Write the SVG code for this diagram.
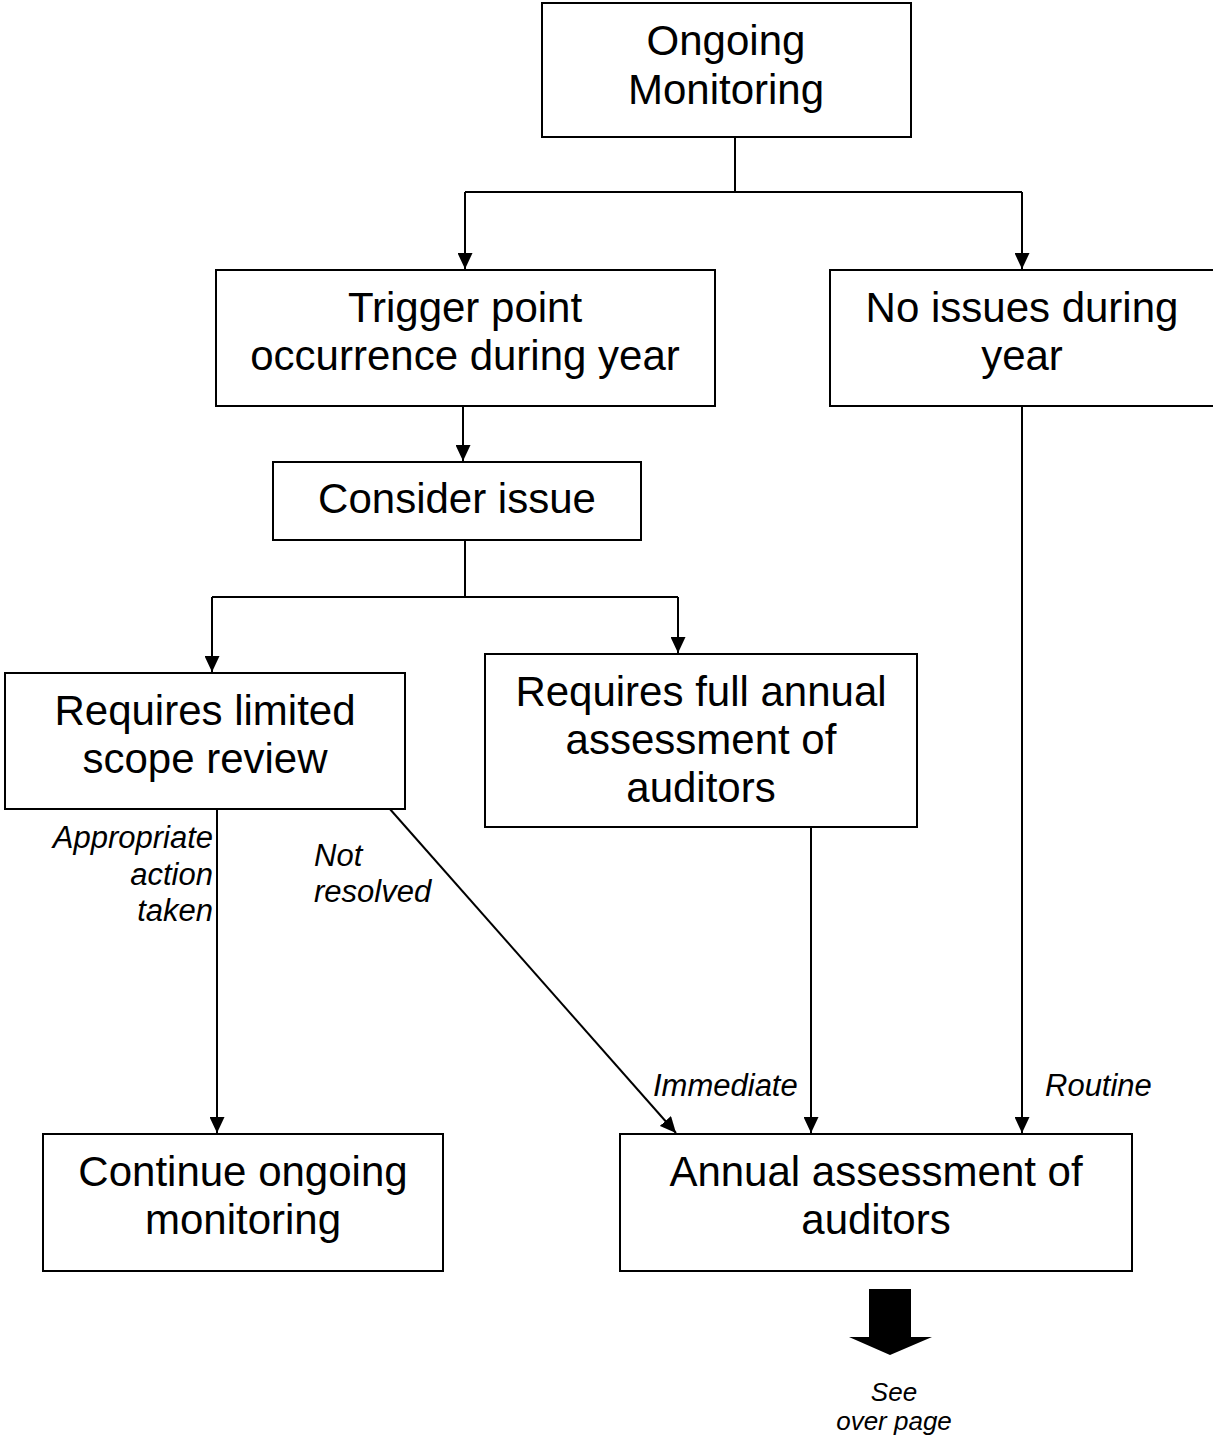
<svg xmlns="http://www.w3.org/2000/svg" width="1213" height="1439" viewBox="0 0 1213 1439">
<style>
.box{fill:#fff;stroke:#000;stroke-width:2}
.t{font-family:"Liberation Sans",Arial,sans-serif;font-size:42px;text-anchor:middle;fill:#000}
.l{font-family:"Liberation Sans",Arial,sans-serif;font-size:31px;font-style:italic;fill:#000}
.c{fill:none;stroke:#000;stroke-width:2}
</style>
<defs>
<marker id="ah" markerUnits="userSpaceOnUse" markerWidth="16" markerHeight="15" refX="16" refY="7.5" orient="auto" viewBox="0 0 16 15">
<path d="M0,0 L16,7.5 L0,15 z" fill="#000"/>
</marker>
</defs>
<rect width="1213" height="1439" fill="#fff"/>
<g id="connectors">
<path class="c" d="M735,137 V192 M465,192 H1022"/>
<path class="c" d="M465,192 V269" marker-end="url(#ah)"/>
<path class="c" d="M1022,192 V269" marker-end="url(#ah)"/>
<path class="c" d="M463,406 V461" marker-end="url(#ah)"/>
<path class="c" d="M465,540 V597 M212,597 H678"/>
<path class="c" d="M212,597 V672" marker-end="url(#ah)"/>
<path class="c" d="M678,597 V653" marker-end="url(#ah)"/>
<path class="c" d="M1022,406 V1133" marker-end="url(#ah)"/>
<path class="c" d="M811,827 V1133" marker-end="url(#ah)"/>
<path class="c" d="M217,808 V1133" marker-end="url(#ah)"/>
<path class="c" d="M389,808 L676,1133" marker-end="url(#ah)"/>
<text class="l" text-anchor="end" x="213" y="848">Appropriate</text>
<text class="l" text-anchor="end" x="213" y="885">action</text>
<text class="l" text-anchor="end" x="213" y="921">taken</text>
<text class="l" x="314" y="866">Not</text>
<text class="l" x="314" y="902">resolved</text>
<text class="l" x="653" y="1096">Immediate</text>
<text class="l" x="1045" y="1096">Routine</text>
</g>
<g id="ongoing">
<rect class="box" x="542" y="3" width="369" height="134"/>
<text class="t" x="726" y="55">Ongoing</text>
<text class="t" x="726" y="104">Monitoring</text>
</g>
<g id="trigger">
<rect class="box" x="216" y="270" width="499" height="136"/>
<text class="t" x="465" y="322">Trigger point</text>
<text class="t" x="465" y="370">occurrence during year</text>
</g>
<g id="noissues">
<rect class="box" x="830" y="270" width="400" height="136"/>
<text class="t" x="1022" y="322">No issues during</text>
<text class="t" x="1022" y="370">year</text>
</g>
<g id="consider">
<rect class="box" x="273" y="462" width="368" height="78"/>
<text class="t" x="457" y="513">Consider issue</text>
</g>
<g id="limited">
<rect class="box" x="5" y="673" width="400" height="136"/>
<text class="t" x="205" y="725">Requires limited</text>
<text class="t" x="205" y="773">scope review</text>
</g>
<g id="full">
<rect class="box" x="485" y="654" width="432" height="173"/>
<text class="t" x="701" y="706">Requires full annual</text>
<text class="t" x="701" y="754">assessment of</text>
<text class="t" x="701" y="802">auditors</text>
</g>
<g id="continue">
<rect class="box" x="43" y="1134" width="400" height="137"/>
<text class="t" x="243" y="1186">Continue ongoing</text>
<text class="t" x="243" y="1234">monitoring</text>
</g>
<g id="annual">
<rect class="box" x="620" y="1134" width="512" height="137"/>
<text class="t" x="876" y="1186">Annual assessment of</text>
<text class="t" x="876" y="1234">auditors</text>
</g>
<g id="seeover">
<path d="M869,1289 H911 V1337 H932 L890,1355 L849,1337 H869 z" fill="#000"/>
<text class="l" style="font-size:26px" text-anchor="middle" x="894" y="1401">See</text>
<text class="l" style="font-size:26px" text-anchor="middle" x="894" y="1430">over page</text>
</g>
</svg>
